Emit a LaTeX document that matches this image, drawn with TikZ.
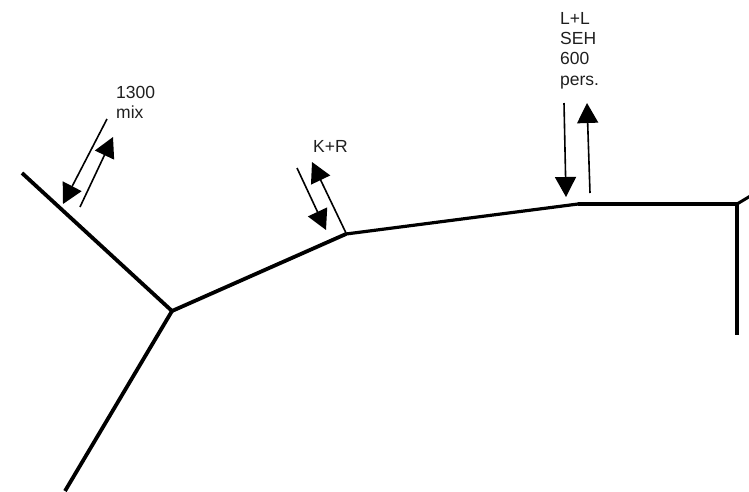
\documentclass[tikz,border=0pt]{standalone}
\usepackage{fontspec}
\setmainfont{Liberation Sans}
\usetikzlibrary{arrows.meta}
\begin{document}
\begin{tikzpicture}[x=1pt,y=-1pt,
  road/.style={line width=3.8pt,line cap=butt,line join=miter},
  flow/.style={line width=1.6pt,-{Triangle[length=20pt,width=21pt]}},
  lbl/.style={anchor=north west,inner sep=0pt,font=\fontsize{17.5}{20.3}\selectfont,align=left,text=black!88}]
\useasboundingbox (0,0) rectangle (749,491);
% road network
\coordinate (w) at (22,173);
\coordinate (j) at (172,311);
\coordinate (s) at (65,491);
\coordinate (k) at (346,234);
\coordinate (l) at (578,204);
\coordinate (e) at (737,204);
\coordinate (d) at (737,335);
\coordinate (ne) at (752,195);
\draw[road] (w) -- (j) -- (s);
\draw[road] (j) -- (k);
\draw[line width=3.2pt] (k) -- (l);
\draw[line width=4.6pt] (l) -- (e);
\draw[line width=4.6pt] (e) -- (d);
\draw[line width=3pt] (e) -- (ne);
% flows: 1300 mix
\coordinate (a1) at (107,119);
\coordinate (a2) at (63,204);
\coordinate (a3) at (80,207);
\coordinate (a4) at (113,137);
\draw[flow] (a1) -- (a2);
\draw[flow] (a3) -- (a4);
% flows: K+R
\coordinate (b1) at (297,168);
\coordinate (b2) at (326,230);
\coordinate (b3) at (346,233);
\coordinate (b4) at (312,162);
\draw[flow] (b1) -- (b2);
\draw[flow] (b3) -- (b4);
% flows: L+L
\coordinate (c1) at (564,103);
\coordinate (c2) at (566,197);
\coordinate (c3) at (590,193);
\coordinate (c4) at (587,103);
\draw[flow] (c1) -- (c2);
\draw[flow] (c3) -- (c4);
% labels
\node[lbl] (t1) at (116,86) {1300\\mix};
\node[lbl] (t2) at (313,140) {K+R};
\node[lbl] (t3) at (560,12) {L+L\\SEH\\600\\pers.};
\end{tikzpicture}
\end{document}
